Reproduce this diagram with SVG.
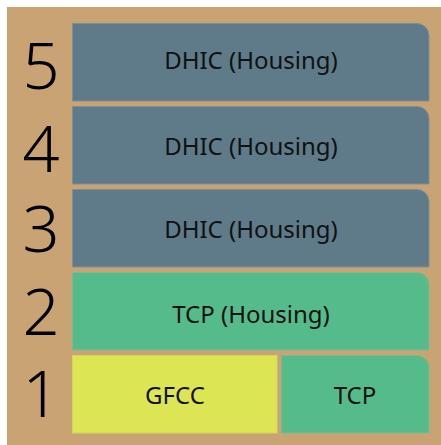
<svg xmlns="http://www.w3.org/2000/svg" width="441" height="445" viewBox="0 0 441 445">
  <style>
    .floor { stroke-width: 1; }
    .housing { fill: #5f7b8a; stroke: #7d8f96; }
    .tcp { fill: #56bb8a; stroke: #7db98e; }
    .gfcc { fill: #dce655; stroke: #d5d55e; }
    .label { font-family: "Noto Sans", "Open Sans", sans-serif; font-size: 24px; fill: #111; text-anchor: middle; }
    .level { font-family: "Noto Sans", "Open Sans", sans-serif; font-size: 65px; font-weight: 300; fill: #000; text-anchor: middle; }
  </style>
  <rect x="0" y="0" width="441" height="445" fill="#ffffff"/>
  <rect x="7" y="7" width="434" height="438" fill="#caa374"/>

  <!-- floor numbers -->
  <g id="levels">
    <text class="level" x="41" y="89">5</text>
    <text class="level" x="41" y="172">4</text>
    <text class="level" x="41" y="252">3</text>
    <text class="level" x="41" y="335">2</text>
    <text class="level" x="41" y="417">1</text>
  </g>

  <g id="floor5">
    <path class="floor housing" d="M72.5 23.5 H417 A12 12 0 0 1 429 35.5 V101 H72.5 Z"/>
    <text class="label" x="251" y="69">DHIC (Housing)</text>
  </g>
  <g id="floor4">
    <path class="floor housing" d="M72.5 106.5 H417 A12 12 0 0 1 429 118.5 V184 H72.5 Z"/>
    <text class="label" x="251" y="155">DHIC (Housing)</text>
  </g>
  <g id="floor3">
    <path class="floor housing" d="M72.5 189.5 H417 A12 12 0 0 1 429 201.5 V267 H72.5 Z"/>
    <text class="label" x="251" y="238">DHIC (Housing)</text>
  </g>
  <g id="floor2">
    <path class="floor tcp" d="M72.5 272.5 H417 A12 12 0 0 1 429 284.5 V350 H72.5 Z"/>
    <text class="label" x="251" y="323">TCP (Housing)</text>
  </g>
  <g id="floor1-gfcc">
    <rect class="floor gfcc" x="72.5" y="355.5" width="204.5" height="77.5"/>
    <text class="label" x="175" y="404">GFCC</text>
  </g>
  <g id="floor1-tcp">
    <path class="floor tcp" d="M281.5 355.5 H417 A12 12 0 0 1 429 367.5 V433 H281.5 Z"/>
    <text class="label" x="355" y="404">TCP</text>
  </g>
  <g id="connectors"/>
</svg>
